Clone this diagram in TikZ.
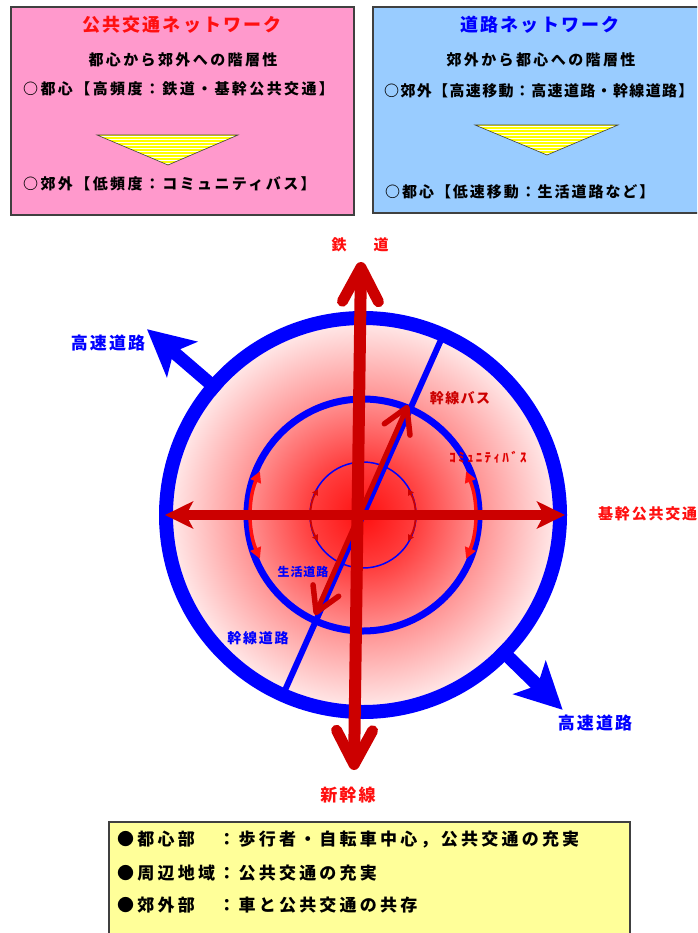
\documentclass[tikz,border=0pt]{standalone}
\usepackage{fontspec}
\setmainfont{Noto Sans CJK JP}
\usetikzlibrary{arrows.meta,calc}
\definecolor{pinkbox}{HTML}{FF99CC}
\definecolor{bluebox}{HTML}{99CCFF}
\definecolor{yelbox}{HTML}{FFFF99}
\definecolor{darkred}{HTML}{CC0000}
\definecolor{bblue}{HTML}{0000FF}
\definecolor{rred}{HTML}{FF1010}
\definecolor{frame}{HTML}{404040}
\definecolor{triyel}{HTML}{FFFF00}
\definecolor{sa}{HTML}{FF1010}
\definecolor{sb}{HTML}{FF4040}
\definecolor{sc}{HTML}{FF9494}
\definecolor{sd}{HTML}{FFEDED}
\pgfdeclareradialshading{cityshade}{\pgfpoint{0bp}{0bp}}{color(0bp)=(sa); color(7bp)=(sb); color(15bp)=(sc); color(25bp)=(sd); color(50bp)=(sd)}
\tikzset{
  jt/.style n args={2}{font=\fontsize{#1}{#1}\selectfont\bfseries\addfontfeatures{LetterSpace=#2}, inner sep=0pt},
  boxframe/.style={draw=frame, line width=1.2},
  tri/.style={draw=frame, line width=0.6},
  stripe/.style={white, line width=1},
}
\begin{document}
\begin{tikzpicture}[x=1pt,y=-1pt]
\useasboundingbox (0,0) rectangle (697,933);
\clip (0,0) rectangle (697,933);

% ---------- top-left box ----------
\draw[boxframe, fill=pinkbox] (11,7) rectangle (354,215);
\node[jt={18}{12}, text=rred] (t1) at (182,25) {公共交通ネットワーク};
\node[jt={15}{16}] (s1) at (183,60) {都心から郊外への階層性};
\node[jt={15}{16}, anchor=west] (l1) at (23,89) {○都心【高頻度：鉄道・基幹公共交通】};
\coordinate (ta) at (97,135); \coordinate (tb) at (238,135); \coordinate (tc) at (168,165);
\fill[triyel] (ta)--(tb)--(tc)--cycle;
\begin{scope}
\clip (ta)--(tb)--(tc)--cycle;
\foreach \y in {137,140,...,166} \draw[stripe] (90,\y) -- (245,\y);
\end{scope}
\draw[tri] (ta)--(tb)--(tc)--cycle;
\node[jt={15}{16}, anchor=west] (l2) at (23,184) {○郊外【低頻度：コミュニティバス】};

% ---------- top-right box ----------
\draw[boxframe, fill=bluebox] (373,7) rectangle (710,213);
\node[jt={18}{12}, text=bblue] (t2) at (540,25) {道路ネットワーク};
\node[jt={15}{16}] (s2) at (541,60) {郊外から都心への階層性};
\node[jt={15}{9}, anchor=west] (l3) at (384,91) {○郊外【高速移動：高速道路・幹線道路】};
\coordinate (ua) at (475,125); \coordinate (ub) at (618,125); \coordinate (uc) at (547,155);
\fill[triyel] (ua)--(ub)--(uc)--cycle;
\begin{scope}
\clip (ua)--(ub)--(uc)--cycle;
\foreach \y in {127,130,...,156} \draw[stripe] (470,\y) -- (625,\y);
\end{scope}
\draw[tri] (ua)--(ub)--(uc)--cycle;
\node[jt={15}{13}, anchor=west] (l4) at (385,192) {○都心【低速移動：生活道路など】};

% ---------- circles ----------
\coordinate (C) at (363,515);
\shade[shading=cityshade] (C) circle (197);
\draw[bblue, line width=14] (C) circle (197);
\draw[bblue, line width=7] (C) circle (116);
\draw[bblue, line width=1.5] (C) circle (53);

% trunk road (blue diagonal)
\path (C) +(-66:197) coordinate (dU) +(114:197) coordinate (dL);
\draw[bblue, line width=6] (dU) -- (dL);

% expressway arrows
\path (C) +(-139.3:190) coordinate (e1s) +(-139.3:285) coordinate (e1t);
\path (C) +(44.3:190) coordinate (e2s) +(44.3:279) coordinate (e2t);
\draw[bblue, line width=13, -{Stealth[length=46pt, width=46pt, inset=11pt]}] (e1s) -- (e1t);
\draw[bblue, line width=13, -{Stealth[length=46pt, width=46pt, inset=11pt]}] (e2s) -- (e2t);

% community bus arcs on middle circle
\draw[rred, line width=3.5, {Triangle[length=11pt,width=11pt]}-{Triangle[length=11pt,width=11pt]}]
  ([shift={(157:112)}]C) arc (157:203:112);
\draw[rred, line width=3.5, {Triangle[length=11pt,width=11pt]}-{Triangle[length=11pt,width=11pt]}]
  ([shift={(-23:112)}]C) arc (-23:23:112);

% inner small arcs
\draw[darkred, line width=1.8, {Triangle[length=6pt,width=6pt]}-{Triangle[length=6pt,width=6pt]}]
  ([shift={(150:52)}]C) arc (150:210:52);
\draw[darkred, line width=1.8, {Triangle[length=6pt,width=6pt]}-{Triangle[length=6pt,width=6pt]}]
  ([shift={(-30:52)}]C) arc (-30:30:52);

% horizontal red arrow
\coordinate (hL) at (165,515); \coordinate (hR) at (565,515);
\draw[darkred, line width=10, {Stealth[length=28pt, width=27pt, inset=7pt]}-{Stealth[length=28pt, width=27pt, inset=7pt]}] (hL) -- (hR);

% vertical red arrow
\coordinate (vT) at (361,262); \coordinate (vB) at (354,770);
\draw[darkred, line width=12, {Straight Barb[length=34pt, width=36pt, line width=11pt, round]}-{Straight Barb[length=34pt, width=36pt, line width=11pt, round]}] (vT) -- (vB);

% trunk bus diagonal red arrow
\coordinate (rA) at (315,615); \coordinate (rB) at (408,405);
\draw[darkred, line width=5, {Straight Barb[length=24pt, width=28pt, line width=5.5pt, round]}-{Straight Barb[length=24pt, width=28pt, line width=5.5pt, round]}] (rA) -- (rB);

% ---------- labels ----------
\node[jt={15}{0}, text=rred] (lt) at (360,245) {鉄\hspace{27pt}道};
\node[jt={17}{12}, text=bblue] (lx1) at (108,343) {高速道路};
\node[jt={14}{10}, text=darkred] (lbus) at (460,398) {幹線バス};
\node[jt={13}{18}, text=red!88!black] (lcom) at (488,457) {ｺﾐｭﾆﾃｨﾊﾞｽ};
\node[jt={15}{12}, text=rred, anchor=west] (lkk) at (598,514) {基幹公共交通};
\node[jt={12}{8}, text=bblue] (lsk) at (303,572) {生活道路};
\node[jt={14}{12}, text=bblue] (lkd) at (258,638) {幹線道路};
\node[jt={17}{12}, text=bblue] (lx2) at (595,723) {高速道路};
\node[jt={17}{12}, text=rred] (lsh) at (348,795) {新幹線};

% ---------- bottom box ----------
\draw[boxframe, fill=yelbox] (109,822) rectangle (630,945);
\node[jt={17}{19}, anchor=west] (b1) at (117,840) {●都心部　：歩行者・自転車中心，公共交通の充実};
\node[jt={17}{19}, anchor=west] (b2) at (117,873) {●周辺地域：公共交通の充実};
\node[jt={17}{19}, anchor=west] (b3) at (117,905) {●郊外部　：車と公共交通の共存};
\end{tikzpicture}
\end{document}
